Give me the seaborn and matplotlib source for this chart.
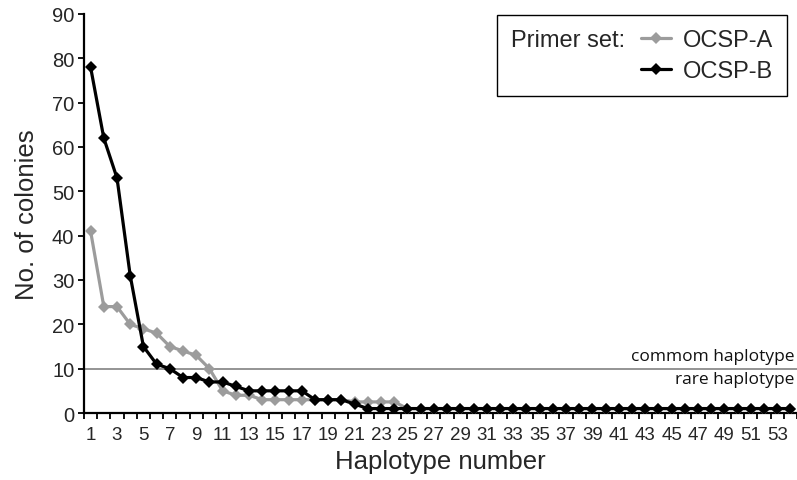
import numpy as np
import pandas as pd
import matplotlib
matplotlib.use("Agg")
import matplotlib.pyplot as plt
import seaborn as sns
from matplotlib.offsetbox import HPacker

# ---- data ----
haplotypes = list(range(1, 55))
ocsp_a = [41, 24, 24, 20, 19, 18, 15, 14, 13, 10,
          5, 4, 4, 3, 3, 3, 3, 3, 3, 3,
          2.5, 2.5, 2.5, 2.5] + [1] * 30
ocsp_b = [78, 62, 53, 31, 15, 11, 10, 8, 8, 7,
          7, 6, 5, 5, 5, 5, 5, 3, 3, 3,
          2] + [1] * 33
series_names = ["OCSP-A", "OCSP-B"]
series_colors = ["#9c9c9c", "#000000"]
y_ticks = list(range(0, 100, 10))
x_tick_labels = [str(v) for v in range(1, 54, 2)]
threshold = 10

df = pd.DataFrame({
    "hap": haplotypes * 2,
    "count": ocsp_a + ocsp_b,
    "set": [series_names[0]] * len(haplotypes) + [series_names[1]] * len(haplotypes),
})

sns.set_style("ticks")
plt.rcParams["font.family"] = ["Liberation Sans", "DejaVu Sans"]

fig = plt.figure(figsize=(7.97, 4.81), dpi=100)
ax = fig.add_axes([84 / 797, 1 - 414 / 481, 1 - 84 / 797, (414 - 15) / 481])

sns.lineplot(data=df, x="hap", y="count", hue="set", style="set",
             palette=dict(zip(series_names, series_colors)),
             markers={n: "D" for n in series_names}, dashes=False,
             linewidth=2.3, markersize=5.8, markeredgewidth=0,
             ax=ax, legend=False, zorder=3)
series_lines = list(ax.get_lines())[:2]

ax.axhline(threshold, color="#777777", linewidth=1.1, zorder=1)
ax.annotate("commom haplotype", xy=(1, threshold), xycoords=("axes fraction", "data"),
            xytext=(-2, 3), textcoords="offset points", ha="right", va="bottom",
            fontsize=12.5, family=["Open Sans", "DejaVu Sans"], color="#111111")
ax.annotate("rare haplotype", xy=(1, threshold), xycoords=("axes fraction", "data"),
            xytext=(-2, -2), textcoords="offset points", ha="right", va="top",
            fontsize=12.5, family=["Open Sans", "DejaVu Sans"], color="#111111")

ax.set_xlim(0.5, len(haplotypes) + 0.5)
ax.set_ylim(0, 90)
ax.set_yticks(y_ticks)
ax.set_xticks(np.arange(0.5, len(haplotypes) + 1, 1))
ax.set_xticklabels([])
ax.set_xticks(np.arange(1, 54, 2), minor=True)
ax.set_xticklabels(x_tick_labels, minor=True)
ax.tick_params(axis="x", which="major", length=4, width=1.3, color="black", direction="out")
ax.tick_params(axis="x", which="minor", length=0, labelsize=13.5, pad=9)
ax.tick_params(axis="y", length=4, width=1.3, color="black", labelsize=14.5, pad=3)

for side in ["top", "right"]:
    ax.spines[side].set_visible(False)
for side in ["left", "bottom"]:
    ax.spines[side].set_color("black")
    ax.spines[side].set_linewidth(1.6)

ax.set_xlabel("Haplotype number", fontsize=18.5, labelpad=5)
ax.set_ylabel("No. of colonies", fontsize=18.5, labelpad=9)

leg = ax.legend(series_lines, series_names, title="Primer set:",
                loc="upper right", bbox_to_anchor=(787 / 797, 1 - 16 / 481),
                bbox_transform=fig.transFigure,
                fontsize=17, title_fontsize=17, frameon=True, fancybox=False,
                framealpha=1, edgecolor="black", borderpad=0.6,
                handlelength=1.25, handletextpad=0.5, labelspacing=0.38,
                borderaxespad=0)
leg.get_frame().set_linewidth(1.0)
old = leg._legend_box
new_box = HPacker(pad=old.pad, sep=11.5, align="top",
                  children=[leg._legend_title_box, leg._legend_handle_box])
new_box.set_figure(fig)
new_box.axes = ax
leg._legend_box = new_box
new_box.set_offset(leg._findoffset)

fig.savefig("out.png", dpi=100)
